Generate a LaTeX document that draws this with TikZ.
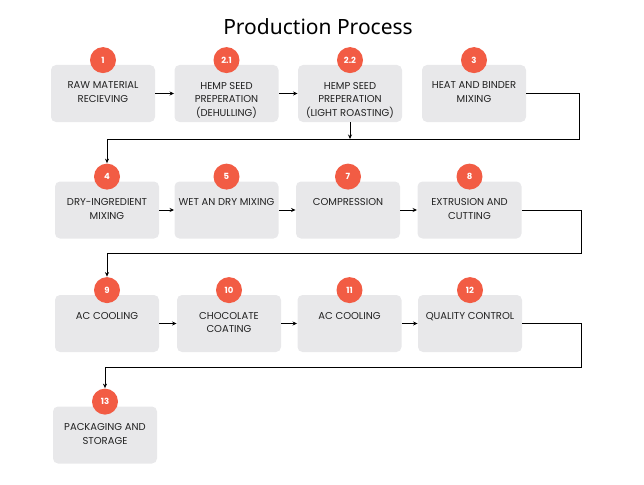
\documentclass[tikz,border=0pt]{standalone}
\usepackage{fontspec}
\setmainfont{Poppins}
\newfontfamily\titlefont{Noto Sans}
\usetikzlibrary{arrows.meta, positioning, calc}
\definecolor{boxgray}{HTML}{E8E8EA}
\definecolor{badgered}{HTML}{F25C44}
\definecolor{inkgray}{HTML}{222222}
\tikzset{
  every picture/.style={line width=0.9pt},
  stepbox/.style={fill=boxgray, rounded corners=5pt, minimum width=104pt, minimum height=57pt, inner sep=0pt},
  steptext/.style={anchor=north, align=center, text=inkgray, font=\fontsize{10}{13.5}\selectfont, inner sep=0pt},
  badge/.style={circle, fill=badgered, text=white, minimum size=26pt, inner sep=0pt, font=\fontsize{8.5}{10}\selectfont\bfseries},
  every edge/.append style={-{Stealth[length=4.5pt, width=4pt]}}
}

\begin{document}
\begin{tikzpicture}[x=1pt, y=-1pt, tips=proper]
    \useasboundingbox (0,0) rectangle (644,484);

    \node [font=\titlefont\fontsize{21}{24}\selectfont] (title) at (318,27) {Production Process};

    % row 1
    \node [stepbox] (1) at (103,93.5) {};
    \node [stepbox] (21) at (226.5,93.5) {};
    \node [stepbox] (22) at (350,93.5) {};
    \node [stepbox] (3) at (474,93.5) {};

    % row 2
    \node [stepbox] (4) at (107,210) {};
    \node [stepbox] (5) at (226.5,210) {};
    \node [stepbox] (7) at (348,210) {};
    \node [stepbox] (8) at (469.5,210) {};

    % row 3
    \node [stepbox] (9) at (107,323.5) {};
    \node [stepbox] (10) at (229,323.5) {};
    \node [stepbox] (11) at (349.5,323.5) {};
    \node [stepbox] (12) at (470,323.5) {};

    % row 4
    \node [stepbox] (13) at (105,435) {};

    \node [steptext, below=17pt of 1.north, anchor=north] (t1) {RAW MATERIAL\\RECIEVING};
    \node [steptext, below=17pt of 21.north, anchor=north] (t21) {HEMP SEED\\PREPERATION\\(DEHULLING)};
    \node [steptext, below=17pt of 22.north, anchor=north] (t22) {HEMP SEED\\PREPERATION\\(LIGHT ROASTING)};
    \node [steptext, below=17pt of 3.north, anchor=north] (t3) {HEAT AND BINDER\\MIXING};
    \node [steptext, below=17pt of 4.north, anchor=north] (t4) {DRY-INGREDIENT\\MIXING};
    \node [steptext, below=17pt of 5.north, anchor=north] (t5) {WET AN DRY MIXING};
    \node [steptext, below=17pt of 7.north, anchor=north] (t7) {COMPRESSION};
    \node [steptext, below=17pt of 8.north, anchor=north] (t8) {EXTRUSION AND\\CUTTING};
    \node [steptext, below=17pt of 9.north, anchor=north] (t9) {AC COOLING};
    \node [steptext, below=17pt of 10.north, anchor=north] (t10) {CHOCOLATE\\COATING};
    \node [steptext, below=17pt of 11.north, anchor=north] (t11) {AC COOLING};
    \node [steptext, below=17pt of 12.north, anchor=north] (t12) {QUALITY CONTROL};
    \node [steptext, below=17pt of 13.north, anchor=north] (t13) {PACKAGING AND\\STORAGE};

    \node [badge, above=-9pt of 1.north] (b1) {1};
    \node [badge, above=-9pt of 21.north] (b21) {2.1};
    \node [badge, above=-9pt of 22.north] (b22) {2.2};
    \node [badge, above=-9pt of 3.north] (b3) {3};
    \node [badge, above=-9pt of 4.north] (b4) {4};
    \node [badge, above=-9pt of 5.north] (b5) {5};
    \node [badge, above=-9pt of 7.north] (b7) {7};
    \node [badge, above=-9pt of 8.north] (b8) {8};
    \node [badge, above=-9pt of 9.north] (b9) {9};
    \node [badge, above=-9pt of 10.north] (b10) {10};
    \node [badge, above=-9pt of 11.north] (b11) {11};
    \node [badge, above=-9pt of 12.north] (b12) {12};
    \node [badge, above=-9pt of 13.north] (b13) {13};

    \coordinate (r1) at (579,139);
    \coordinate (r2) at (581,253);
    \coordinate (r3) at (581,367);
    \coordinate (j1) at (22.south |- r1);

    \draw(1) edge (21);
    \draw(21) edge (22);
    \draw(22.south) edge (j1);
    \draw[-{Stealth[length=4.5pt, width=4pt]}] (3.east) -| (r1) -| (b4.north);

    \draw(4) edge (5);
    \draw(5) edge (7);
    \draw(7) edge (8);
    \draw[-{Stealth[length=4.5pt, width=4pt]}] (8.east) -| (r2) -| (b9.north);

    \draw(9) edge (10);
    \draw(10) edge (11);
    \draw(11) edge (12);
    \draw[-{Stealth[length=4.5pt, width=4pt]}] (12.east) -| (r3) -| (b13.north);
  \end{tikzpicture}
\end{document}
